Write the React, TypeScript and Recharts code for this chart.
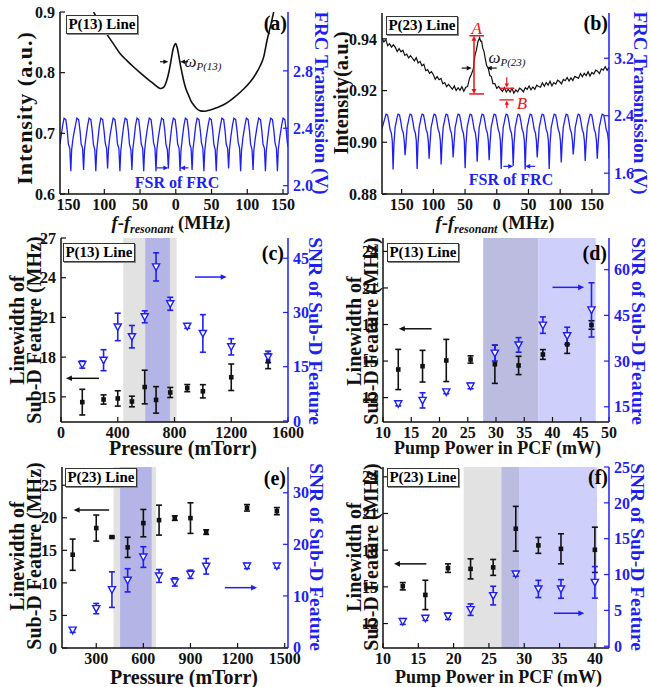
import React from 'react';
import { ComposedChart, Line, Scatter, XAxis, YAxis, ErrorBar, ReferenceArea, ReferenceLine } from 'recharts';

const BLUE = '#1f1ff0';
const BLACK = '#111111';
const RED = '#e8141c';
const GRAY_BAND = '#e2e2e2';
const BLUE_BAND = '#b4b4e6';
const DARK_BAND = '#bcbce0';
const LIGHT_BAND = '#cfcffb';
const FONT = '"Liberation Serif", "Times New Roman", Times, serif';

// ---------- Panel (a) : P(13) line spectrum ----------
const aIntensity: [number, number][] = [
  [-115, 0.9], [-108, 0.8855], [-97, 0.8644], [-87, 0.847], [-78, 0.8316], [-68, 0.8195], [-59.3, 0.8097],
  [-50, 0.8], [-40.6, 0.7905], [-33, 0.7835], [-28.9, 0.7796], [-24.5, 0.7755], [-21.8, 0.774], [-19.5, 0.7745],
  [-17.2, 0.7758], [-14.5, 0.781], [-12.5, 0.788], [-10, 0.799], [-7.8, 0.8124], [-5.5, 0.828], [-4.1, 0.837],
  [-2, 0.845], [0, 0.848], [1.5, 0.843], [2.8, 0.837], [4.5, 0.826], [6.1, 0.815], [8.5, 0.801], [10.8, 0.788],
  [14, 0.774], [17.8, 0.763], [21, 0.754], [24.8, 0.747], [29, 0.741], [34.2, 0.737], [40, 0.7365], [48.2, 0.7386],
  [57, 0.742], [66.9, 0.747], [76, 0.754], [85.6, 0.763], [95, 0.773], [104.3, 0.785], [112, 0.798], [118, 0.811],
  [123, 0.826], [127.7, 0.8535], [133.4, 0.881], [137, 0.9],
];
const aFrc: [number, number][] = [
  [-162, 2.29],
  [-158.3, 2.42], [-156.3, 2.47], [-153.8, 2.46], [-151.8, 2.38], [-150.3, 2.29], [-148.3, 2.26], [-146.9, 2.10], [-145.7, 2.25], [-143.8, 2.33],
  [-140.4, 2.42], [-138.4, 2.47], [-135.9, 2.46], [-133.9, 2.38], [-132.4, 2.29], [-130.4, 2.26], [-129.0, 2.11], [-127.8, 2.25], [-125.9, 2.33],
  [-123.3, 2.42], [-121.3, 2.47], [-118.8, 2.46], [-116.8, 2.38], [-115.3, 2.29], [-113.3, 2.25], [-111.9, 2.10], [-110.7, 2.24], [-108.8, 2.33],
  [-106.8, 2.42], [-104.8, 2.47], [-102.3, 2.46], [-100.3, 2.38], [-98.8, 2.30], [-96.8, 2.26], [-95.4, 2.12], [-94.2, 2.25], [-92.3, 2.34],
  [-89.6, 2.42], [-87.6, 2.47], [-85.1, 2.46], [-83.1, 2.38], [-81.6, 2.29], [-79.6, 2.26], [-78.2, 2.10], [-77.0, 2.24], [-75.1, 2.33],
  [-72.8, 2.42], [-70.8, 2.47], [-68.3, 2.46], [-66.3, 2.38], [-64.8, 2.29], [-62.8, 2.25], [-61.4, 2.11], [-60.2, 2.25], [-58.3, 2.33],
  [-56.3, 2.42], [-54.3, 2.47], [-51.8, 2.46], [-49.8, 2.37], [-48.3, 2.29], [-46.3, 2.26], [-44.9, 2.10], [-43.7, 2.24], [-41.8, 2.33],
  [-39.1, 2.42], [-37.1, 2.47], [-34.6, 2.46], [-32.6, 2.38], [-31.1, 2.30], [-29.1, 2.26], [-27.7, 2.10], [-26.5, 2.25], [-24.6, 2.33],
  [-21.8, 2.42], [-19.8, 2.47], [-17.3, 2.46], [-15.3, 2.38], [-13.8, 2.29], [-11.8, 2.25], [-10.4, 2.12], [-9.2, 2.25], [-7.3, 2.34],
  [-5.4, 2.42], [-3.4, 2.47], [-0.9, 2.46], [1.1, 2.38], [2.6, 2.29], [4.6, 2.26], [6.0, 2.10], [7.2, 2.24], [9.1, 2.33],
  [11.4, 2.42], [13.4, 2.47], [15.9, 2.46], [17.9, 2.38], [19.4, 2.29], [21.4, 2.26], [22.8, 2.11], [24.0, 2.25], [25.9, 2.33],
  [27.9, 2.42], [29.9, 2.47], [32.4, 2.46], [34.4, 2.38], [35.9, 2.30], [37.9, 2.26], [39.3, 2.10], [40.5, 2.24], [42.4, 2.33],
  [45.2, 2.42], [47.2, 2.47], [49.7, 2.46], [51.7, 2.38], [53.2, 2.29], [55.2, 2.25], [56.6, 2.10], [57.8, 2.25], [59.7, 2.33],
  [62.5, 2.42], [64.5, 2.47], [67.0, 2.46], [69.0, 2.38], [70.5, 2.29], [72.5, 2.26], [73.9, 2.12], [75.1, 2.25], [77.0, 2.34],
  [79.3, 2.42], [81.3, 2.47], [83.8, 2.46], [85.8, 2.38], [87.3, 2.30], [89.3, 2.26], [90.7, 2.10], [91.9, 2.24], [93.8, 2.33],
  [96.7, 2.42], [98.7, 2.47], [101.2, 2.46], [103.2, 2.38], [104.7, 2.29], [106.7, 2.25], [108.1, 2.11], [109.3, 2.25], [111.2, 2.33],
  [114.0, 2.42], [116.0, 2.47], [118.5, 2.46], [120.5, 2.38], [122.0, 2.29], [124.0, 2.26], [125.4, 2.10], [126.6, 2.24], [128.5, 2.33],
  [130.8, 2.42], [132.8, 2.47], [135.3, 2.46], [137.3, 2.38], [138.8, 2.30], [140.8, 2.26], [142.2, 2.10], [143.4, 2.25], [145.3, 2.33],
  [148.1, 2.42], [150.1, 2.47], [152.6, 2.46], [154.6, 2.38], [156.1, 2.30], [157, 2.27],
];

// ---------- Panel (b) : P(23) line spectrum ----------
const bIntensity: [number, number][] = [
  [-181, 0.9403], [-178, 0.9388], [-175, 0.9397], [-172, 0.9374], [-169, 0.9381], [-166, 0.9368], [-163, 0.9377],
  [-160, 0.9367], [-157, 0.9351], [-154, 0.9362], [-151, 0.935], [-148, 0.9356], [-145, 0.9336], [-142, 0.9341],
  [-139, 0.9326], [-136, 0.9335], [-133, 0.9325], [-130, 0.9315], [-127, 0.9327], [-124, 0.9307], [-121, 0.9313],
  [-118, 0.9296], [-115, 0.9302], [-112, 0.9277], [-109, 0.9281], [-106, 0.9267], [-103, 0.9273], [-100, 0.9261],
  [-97, 0.9244], [-94, 0.9254], [-91, 0.9242], [-88, 0.9247], [-85, 0.9226], [-82, 0.9231], [-79, 0.9215],
  [-76, 0.9224], [-73, 0.9214], [-70, 0.9205], [-67, 0.9218], [-64, 0.92], [-61, 0.9211], [-58, 0.9201],
  [-55, 0.9215], [-52, 0.9197], [-49, 0.9212], [-46, 0.9216], [-43, 0.9247], [-40, 0.9263], [-37, 0.9284],
  [-34.5, 0.9335], [-32, 0.9358], [-29.5, 0.9391], [-27, 0.9404], [-25.5, 0.9391], [-24, 0.9391], [-22, 0.9364],
  [-20, 0.935], [-18, 0.9322], [-16, 0.9297], [-13.5, 0.9288], [-11, 0.9258], [-8.5, 0.9254], [-6, 0.9227],
  [-3, 0.9227], [0, 0.9208], [3, 0.9216], [6, 0.9206], [9, 0.9197], [12, 0.9211], [15, 0.9194], [18, 0.9205],
  [21, 0.9194], [24, 0.9208], [27, 0.919], [30, 0.9202], [33, 0.9195], [36, 0.9209], [39, 0.9204], [42, 0.9195],
  [45, 0.9211], [48, 0.9205], [51, 0.9218], [54, 0.9203], [57, 0.9214], [60, 0.9205], [63, 0.9221], [66, 0.9216],
  [69, 0.9213], [72, 0.923], [75, 0.9217], [78, 0.9231], [81, 0.9221], [84, 0.9236], [87, 0.9218], [90, 0.9231],
  [93, 0.9225], [96, 0.924], [99, 0.9235], [102, 0.9226], [105, 0.9243], [108, 0.9238], [111, 0.9251],
  [114, 0.9237], [117, 0.9249], [120, 0.9239], [123, 0.9255], [126, 0.9251], [129, 0.9248], [132, 0.9266],
  [135, 0.9253], [138, 0.9267], [141, 0.9258], [144, 0.9273], [147, 0.9256], [150, 0.927], [153, 0.9264],
  [156, 0.9279], [159, 0.9275], [162, 0.9266], [165, 0.9284], [168, 0.9279], [171, 0.9292], [174, 0.9278], [177, 0.929],
];
const bFrc: [number, number][] = [
  [-181, 2.22],
  [-176.3, 2.37], [-174.6, 2.42], [-172.3, 2.41], [-170.3, 2.32], [-168.3, 2.21], [-166.3, 2.16], [-164.8, 2.05], [-163.5, 1.65], [-162.2, 2.0], [-160.3, 2.24], [-158.3, 2.32],
  [-157.4, 2.37], [-155.7, 2.42], [-153.4, 2.41], [-151.4, 2.32], [-149.4, 2.21], [-147.4, 2.16], [-145.9, 2.05], [-144.6, 1.85], [-143.3, 2.0], [-141.4, 2.24], [-139.4, 2.32],
  [-138.4, 2.37], [-136.7, 2.42], [-134.4, 2.41], [-132.4, 2.32], [-130.4, 2.21], [-128.4, 2.16], [-126.9, 2.05], [-125.6, 1.66], [-124.3, 2.0], [-122.4, 2.24], [-120.4, 2.32],
  [-119.5, 2.37], [-117.8, 2.42], [-115.5, 2.41], [-113.5, 2.32], [-111.5, 2.21], [-109.5, 2.16], [-108.0, 2.05], [-106.7, 1.8], [-105.4, 2.0], [-103.5, 2.24], [-101.5, 2.32],
  [-100.5, 2.37], [-98.8, 2.42], [-96.5, 2.41], [-94.5, 2.32], [-92.5, 2.21], [-90.5, 2.16], [-89.0, 2.05], [-87.7, 1.72], [-86.4, 2.0], [-84.5, 2.24], [-82.5, 2.32],
  [-81.6, 2.37], [-79.9, 2.42], [-77.6, 2.41], [-75.6, 2.32], [-73.6, 2.21], [-71.6, 2.16], [-70.1, 2.05], [-68.8, 1.82], [-67.5, 2.0], [-65.6, 2.24], [-63.6, 2.32],
  [-62.7, 2.37], [-61.0, 2.42], [-58.7, 2.41], [-56.7, 2.32], [-54.7, 2.21], [-52.7, 2.16], [-51.2, 2.05], [-49.9, 1.67], [-48.6, 2.0], [-46.7, 2.24], [-44.7, 2.32],
  [-43.7, 2.37], [-42.0, 2.42], [-39.7, 2.41], [-37.7, 2.32], [-35.7, 2.21], [-33.7, 2.16], [-32.2, 2.05], [-30.9, 1.76], [-29.6, 2.0], [-27.7, 2.24], [-25.7, 2.32],
  [-24.8, 2.37], [-23.1, 2.42], [-20.8, 2.41], [-18.8, 2.32], [-16.8, 2.21], [-14.8, 2.16], [-13.3, 2.05], [-12.0, 1.78], [-10.7, 2.0], [-8.8, 2.24], [-6.8, 2.32],
  [-5.8, 2.37], [-4.1, 2.42], [-1.8, 2.41], [0.2, 2.32], [2.2, 2.21], [4.2, 2.16], [5.7, 2.05], [7.0, 1.66], [8.3, 2.0], [10.2, 2.24], [12.2, 2.32],
  [13.1, 2.37], [14.8, 2.42], [17.1, 2.41], [19.1, 2.32], [21.1, 2.21], [23.1, 2.16], [24.6, 2.05], [25.9, 1.7], [27.2, 2.0], [29.1, 2.24], [31.1, 2.32],
  [32.0, 2.37], [33.7, 2.42], [36.0, 2.41], [38.0, 2.32], [40.0, 2.21], [42.0, 2.16], [43.5, 2.05], [44.8, 1.65], [46.1, 2.0], [48.0, 2.24], [50.0, 2.32],
  [51.0, 2.37], [52.7, 2.42], [55.0, 2.41], [57.0, 2.32], [59.0, 2.21], [61.0, 2.16], [62.5, 2.05], [63.8, 1.82], [65.1, 2.0], [67.0, 2.24], [69.0, 2.32],
  [69.9, 2.37], [71.6, 2.42], [73.9, 2.41], [75.9, 2.32], [77.9, 2.21], [79.9, 2.16], [81.4, 2.05], [82.7, 1.66], [84.0, 2.0], [85.9, 2.24], [87.9, 2.32],
  [88.9, 2.37], [90.6, 2.42], [92.9, 2.41], [94.9, 2.32], [96.9, 2.21], [98.9, 2.16], [100.4, 2.05], [101.7, 1.75], [103.0, 2.0], [104.9, 2.24], [106.9, 2.32],
  [107.8, 2.37], [109.5, 2.42], [111.8, 2.41], [113.8, 2.32], [115.8, 2.21], [117.8, 2.16], [119.3, 2.05], [120.6, 1.86], [121.9, 2.0], [123.8, 2.24], [125.8, 2.32],
  [126.7, 2.37], [128.4, 2.42], [130.7, 2.41], [132.7, 2.32], [134.7, 2.21], [136.7, 2.16], [138.2, 2.05], [139.5, 1.77], [140.8, 2.0], [142.7, 2.24], [144.7, 2.32],
  [145.7, 2.37], [147.4, 2.42], [149.7, 2.41], [151.7, 2.32], [153.7, 2.21], [155.7, 2.16], [157.2, 2.05], [158.5, 1.8], [159.8, 2.0], [161.7, 2.24], [163.7, 2.32],
  [164.6, 2.37], [166.3, 2.42], [168.6, 2.41], [170.6, 2.32], [172.6, 2.21], [174.6, 2.16], [176.1, 2.05], [177, 1.8],
];

// ---------- Panel (c) : P(13) vs pressure ----------
const cPressure = [150, 300, 400, 500, 590, 670, 770, 890, 1000, 1200, 1460];
const cWidth = [14.6, 14.8, 14.88, 14.65, 15.74, 14.77, 15.33, 15.66, 15.42, 16.48, 17.7];
const cWidthErr = [0.97, 0.35, 0.58, 0.4, 1.27, 1.0, 0.38, 0.27, 0.5, 1.0, 0.57];
const cSnr = [15.6, 16.8, 26.0, 23.3, 28.8, 42.6, 32.4, 26.2, 24.2, 20.5, 17.7];
const cSnrErr = [1.0, 2.9, 3.8, 3.1, 1.65, 3.9, 1.8, 0.6, 5.2, 2.25, 1.6];

// ---------- Panel (d) : P(13) vs pump power ----------
const dPower = [12.7, 17.0, 21.2, 25.5, 29.8, 34.0, 38.3, 42.6, 46.9];
const dWidth = [14.31, 14.58, 15.05, 15.13, 14.74, 14.64, 15.54, 16.37, 17.96];
const dWidthErr = [1.65, 1.3, 1.73, 0.3, 1.57, 0.75, 0.4, 0.74, 0.35];
const dSnr = [16.0, 17.1, 19.9, 21.8, 32.6, 35.3, 41.8, 38.3, 46.8];
const dSnrErr = [0.7, 2.5, 0.6, 0.9, 2.6, 2.4, 2.7, 2.8, 8.9];

// ---------- Panel (e) : P(23) vs pressure ----------
const ePressure = [150, 300, 400, 500, 600, 700, 800, 900, 1000, 1260, 1450];
const eWidth = [14.33, 18.42, 17.04, 15.46, 19.18, 19.64, 19.95, 19.95, 17.8, 21.53, 21.02];
const eWidthErr = [2.4, 2.0, 0.15, 1.55, 2.1, 2.3, 0.35, 2.35, 0.35, 0.5, 0.55];
const eSnr = [3.37, 7.54, 11.22, 13.03, 17.54, 13.87, 12.71, 14.2, 15.74, 15.8, 15.8];
const eSnrErr = [0.45, 1.0, 3.45, 2.25, 2.0, 1.25, 0.8, 0.8, 1.5, 0.5, 0.4];

// ---------- Panel (f) : P(23) vs pump power ----------
const fPower = [12.8, 16, 19.2, 22.4, 25.6, 28.8, 32, 35.2, 40];
const fWidth = [15.05, 14.34, 16.53, 16.47, 16.59, 19.75, 18.39, 18.11, 18.03];
const fWidthErr = [0.3, 1.2, 0.35, 0.82, 0.65, 1.83, 0.65, 1.23, 1.85];
const fSnr = [3.44, 3.9, 4.18, 5.1, 7.06, 10.07, 7.99, 7.99, 8.91];
const fSnrErr = [0.4, 0.3, 0.45, 0.8, 1.3, 0.3, 1.2, 1.3, 2.2];

const freqTicks = [-150, -100, -50, 0, 50, 100, 150];

const toLine = (arr: [number, number][]) => arr.map(([x, y]) => ({ x, y }));
const toPts = (xs: number[], ys: number[], es: number[]) => xs.map((x, i) => ({ x, y: ys[i], e: es[i] }));

const Square = (p: any) => <rect x={p.cx - 2.3} y={p.cy - 2.3} width={4.6} height={4.6} fill={BLACK} />;
const Tri = (p: any) => (
  <polygon
    points={`${p.cx - 3.6},${p.cy - 3} ${p.cx + 3.6},${p.cy - 3} ${p.cx},${p.cy + 3.6}`}
    fill="white"
    stroke={BLUE}
    strokeWidth={1.4}
  />
);

const arrowShape = (color: string, startHead: boolean, endHead: boolean, sw = 1.5, hl = 6, hw = 2.8) => (p: any) => {
  const x1 = Number(p.x1), y1 = Number(p.y1), x2 = Number(p.x2), y2 = Number(p.y2);
  const dx = x2 - x1, dy = y2 - y1;
  const len = Math.hypot(dx, dy) || 1;
  const ux = dx / len, uy = dy / len;
  const head = (tx: number, ty: number, vx: number, vy: number) => {
    const bx = tx - vx * hl, by = ty - vy * hl;
    return `${tx},${ty} ${bx - vy * hw},${by + vx * hw} ${bx + vy * hw},${by - vx * hw}`;
  };
  const lx1 = startHead ? x1 + ux * hl * 0.7 : x1;
  const ly1 = startHead ? y1 + uy * hl * 0.7 : y1;
  const lx2 = endHead ? x2 - ux * hl * 0.7 : x2;
  const ly2 = endHead ? y2 - uy * hl * 0.7 : y2;
  return (
    <g>
      <line x1={lx1} y1={ly1} x2={lx2} y2={ly2} stroke={color} strokeWidth={sw} />
      {endHead && <polygon points={head(x2, y2, ux, uy)} fill={color} />}
      {startHead && <polygon points={head(x1, y1, -ux, -uy)} fill={color} />}
    </g>
  );
};

const tickStyle = (fill: string) => ({ fill, fontSize: 16, fontWeight: 700, fontFamily: FONT });

type Box = { L: number; R: number; T: number; B: number };

function Panel(props: {
  box: Box;
  xDomain: [number, number];
  xTicks: number[];
  xFmt?: (v: number) => string;
  lDomain: [number, number];
  lTicks: number[];
  lFmt?: (v: number) => string;
  rDomain: [number, number];
  rTicks: number[];
  rFmt?: (v: number) => string;
  children?: React.ReactNode;
}) {
  const { L, R, T, B } = props.box;
  const w = R - L + 100;
  const h = B - T + 50;
  return (
    <div style={{ position: 'absolute', left: L - 50, top: T - 10 }}>
      <ComposedChart width={w} height={h} margin={{ top: 10, right: 0, bottom: 10, left: 0 }}>
        <XAxis
          dataKey="x"
          type="number"
          domain={props.xDomain}
          ticks={props.xTicks}
          interval={0}
          allowDataOverflow
          tickFormatter={props.xFmt}
          height={30}
          tickSize={-5}
          tickMargin={10}
          axisLine={{ stroke: BLACK, strokeWidth: 1.5 }}
          tickLine={{ stroke: BLACK, strokeWidth: 1.2 }}
          tick={tickStyle(BLACK)}
        />
        <XAxis
          xAxisId="top"
          orientation="top"
          type="number"
          domain={props.xDomain}
          allowDataOverflow
          height={0}
          tick={false}
          tickLine={false}
          axisLine={{ stroke: BLACK, strokeWidth: 1.5 }}
        />
        <YAxis
          yAxisId="left"
          dataKey="y"
          type="number"
          domain={props.lDomain}
          ticks={props.lTicks}
          interval={0}
          allowDataOverflow
          tickFormatter={props.lFmt}
          width={50}
          tickSize={-5}
          tickMargin={10}
          axisLine={{ stroke: BLACK, strokeWidth: 1.5 }}
          tickLine={{ stroke: BLACK, strokeWidth: 1.2 }}
          tick={tickStyle(BLACK)}
        />
        <YAxis
          yAxisId="right"
          orientation="right"
          dataKey="y"
          type="number"
          domain={props.rDomain}
          ticks={props.rTicks}
          interval={0}
          allowDataOverflow
          tickFormatter={props.rFmt}
          width={50}
          tickSize={-5}
          tickMargin={10}
          axisLine={{ stroke: BLUE, strokeWidth: 1.5 }}
          tickLine={{ stroke: BLUE, strokeWidth: 1.2 }}
          tick={tickStyle(BLUE)}
        />
        {props.children}
      </ComposedChart>
    </div>
  );
}

const seg = (axis: string, x1: number, y1: number, x2: number, y2: number, shape: any, key: string) => (
  <ReferenceLine
    key={key}
    yAxisId={axis}
    segment={[{ x: x1, y: y1 }, { x: x2, y: y2 }]}
    shape={shape}
    ifOverflow="visible"
  />
);

const dataSeries = (
  w: { x: number; y: number; e: number }[],
  s: { x: number; y: number; e: number }[]
) => [
  <Scatter key="w" yAxisId="left" data={w} dataKey="y" shape={Square} isAnimationActive={false}>
    <ErrorBar dataKey="e" direction="y" width={3} stroke={BLACK} strokeWidth={1.6} />
  </Scatter>,
  <Scatter key="s" yAxisId="right" data={s} dataKey="y" shape={Tri} isAnimationActive={false}>
    <ErrorBar dataKey="e" direction="y" width={3} stroke={BLUE} strokeWidth={1.6} />
  </Scatter>,
];

const txt = (
  x: number,
  y: number,
  content: React.ReactNode,
  opts: { size?: number; color?: string; rot?: number; lh?: number; ls?: number; italic?: boolean; bold?: boolean } = {}
) => (
  <div
    style={{
      position: 'absolute',
      left: x,
      top: y,
      transform: `translate(-50%, -50%) rotate(${opts.rot ?? 0}deg)`,
      whiteSpace: 'nowrap',
      fontWeight: opts.bold === false ? 400 : 700,
      fontStyle: opts.italic ? 'italic' : 'normal',
      fontSize: opts.size ?? 20,
      color: opts.color ?? BLACK,
      lineHeight: `${opts.lh ?? Math.round((opts.size ?? 20) * 1.1)}px`,
      letterSpacing: opts.ls ? `${opts.ls}px` : undefined,
      textAlign: 'center',
      fontFamily: FONT,
    }}
  >
    {content}
  </div>
);

const legendBox = (left: number, top: number, label: string) => (
  <div
    style={{
      position: 'absolute',
      left,
      top,
      width: 70,
      height: 17,
      border: '1.5px solid #333',
      boxShadow: '1px 1px 0 #888',
      background: 'white',
      fontFamily: FONT,
      fontWeight: 700,
      fontSize: 15,
      lineHeight: '17px',
      textAlign: 'center',
      whiteSpace: 'nowrap',
    }}
  >
    {label}
  </div>
);

const panelLetter = (right: number, cy: number, label: string) => (
  <div
    style={{
      position: 'absolute',
      left: right - 40,
      top: cy - 11,
      width: 40,
      textAlign: 'right',
      fontFamily: FONT,
      fontWeight: 700,
      fontSize: 20,
      lineHeight: '22px',
    }}
  >
    {label}
  </div>
);

const freqTitle = (
  <span>
    <i>f</i>-<i>f</i>
    <i style={{ fontSize: 12, position: 'relative', top: 4 }}>resonant</i> (MHz)
  </span>
);

const absFmt = (v: number) => String(Math.abs(v));

export default function App() {
  const aInt = toLine(aIntensity);
  const aF = toLine(aFrc);
  const bInt = toLine(bIntensity);
  const bF = toLine(bFrc);
  return (
    <div style={{ position: 'absolute', left: 0, top: 0, width: 650, height: 687, background: 'white', fontFamily: FONT, overflow: 'hidden' }}>
      {/* (a) */}
      <Panel
        box={{ L: 60, R: 288, T: 12, B: 194 }}
        xDomain={[-162, 157]}
        xTicks={freqTicks}
        xFmt={absFmt}
        lDomain={[0.6, 0.9]}
        lTicks={[0.6, 0.7, 0.8, 0.9]}
        lFmt={(v) => v.toFixed(1)}
        rDomain={[1.942, 3.21]}
        rTicks={[2.0, 2.4, 2.8]}
        rFmt={(v) => v.toFixed(1)}
      >
        <Line yAxisId="right" data={aF} dataKey="y" type="linear" stroke={BLUE} strokeWidth={1.3} dot={false} isAnimationActive={false} />
        <Line yAxisId="left" data={aInt} dataKey="y" type="monotone" stroke={BLACK} strokeWidth={1.6} dot={false} isAnimationActive={false} />
        {seg('left', -22, 0.818, -10.4, 0.818, arrowShape(BLACK, false, true, 1.2, 5, 2.3), 'a1')}
        {seg('left', 17.3, 0.818, 6.0, 0.818, arrowShape(BLACK, false, true, 1.2, 5, 2.3), 'a2')}
        {seg('right', -26.6, 2.124, -10.4, 2.124, arrowShape(BLUE, false, true, 1.2, 5, 2.3), 'a3')}
        {seg('right', 17.7, 2.124, 6.0, 2.124, arrowShape(BLUE, false, true, 1.2, 5, 2.3), 'a4')}
      </Panel>

      {/* (b) */}
      <Panel
        box={{ L: 382, R: 609, T: 13, B: 194 }}
        xDomain={[-181, 177]}
        xTicks={freqTicks}
        xFmt={absFmt}
        lDomain={[0.88, 0.95]}
        lTicks={[0.88, 0.9, 0.92, 0.94]}
        lFmt={(v) => v.toFixed(2)}
        rDomain={[1.31, 3.83]}
        rTicks={[1.6, 2.4, 3.2]}
        rFmt={(v) => v.toFixed(1)}
      >
        <Line yAxisId="right" data={bF} dataKey="y" type="linear" stroke={BLUE} strokeWidth={1.3} dot={false} isAnimationActive={false} />
        <Line yAxisId="left" data={bInt} dataKey="y" type="linear" stroke={BLACK} strokeWidth={1.2} dot={false} isAnimationActive={false} />
        {seg('left', -55.3, 0.9287, -39.5, 0.9287, arrowShape(BLACK, false, true, 1.2, 5, 2.3), 'b1')}
        {seg('left', 0, 0.9287, -15.8, 0.9287, arrowShape(BLACK, false, true, 1.2, 5, 2.3), 'b2')}
        {seg('left', -35.9, 0.9187, -35.9, 0.9412, arrowShape(RED, true, true, 1.5, 5, 2.5), 'b3')}
        {seg('left', -43.3, 0.9412, -20.1, 0.9412, arrowShape(RED, false, false, 1.5), 'b4')}
        {seg('left', -43.3, 0.9187, -20.1, 0.9187, arrowShape(RED, false, false, 1.5), 'b5')}
        {seg('left', 15.8, 0.9252, 15.8, 0.9212, arrowShape(RED, false, true, 1.2, 4, 2.2), 'b6')}
        {seg('left', 4.1, 0.9209, 27.8, 0.9209, arrowShape(RED, false, false, 1.3), 'b7')}
        {seg('left', 4.1, 0.9164, 26.6, 0.9164, arrowShape(RED, false, false, 1.3), 'b8')}
        {seg('left', 15.8, 0.9132, 15.8, 0.9161, arrowShape(RED, false, true, 1.2, 4, 2.2), 'b9')}
        {seg('right', 10.4, 1.695, 25.9, 1.695, arrowShape(BLUE, false, true, 1.2, 5, 2.3), 'b10')}
        {seg('right', 60.5, 1.695, 44.8, 1.695, arrowShape(BLUE, false, true, 1.2, 5, 2.3), 'b11')}
      </Panel>

      {/* (c) */}
      <Panel
        box={{ L: 61, R: 288, T: 238, B: 422 }}
        xDomain={[0, 1600]}
        xTicks={[0, 400, 800, 1200, 1600]}
        lDomain={[13.1, 27]}
        lTicks={[15, 18, 21, 24, 27]}
        rDomain={[-0.3, 50.6]}
        rTicks={[0, 15, 30, 45]}
      >
        <ReferenceArea yAxisId="left" x1={439} x2={815} fill={GRAY_BAND} fillOpacity={1} stroke="none" ifOverflow="hidden" />
        <ReferenceArea yAxisId="left" x1={594} x2={768} fill={BLUE_BAND} fillOpacity={1} stroke="none" ifOverflow="hidden" />
        {dataSeries(toPts(cPressure, cWidth, cWidthErr), toPts(cPressure, cSnr, cSnrErr))}
        {seg('left', 268, 16.4, 35, 16.4, arrowShape(BLACK, false, true), 'c1')}
        {seg('right', 944, 39.8, 1168, 39.8, arrowShape(BLUE, false, true), 'c2')}
      </Panel>

      {/* (d) */}
      <Panel
        box={{ L: 383, R: 609, T: 238, B: 422 }}
        xDomain={[10, 50]}
        xTicks={[10, 15, 20, 25, 30, 35, 40, 45, 50]}
        lDomain={[10, 25.1]}
        lTicks={[12, 15, 18, 21, 24]}
        rDomain={[10, 70.4]}
        rTicks={[15, 30, 45, 60]}
      >
        <ReferenceArea yAxisId="left" x1={27.73} x2={37.48} fill={DARK_BAND} fillOpacity={1} stroke="none" ifOverflow="hidden" />
        <ReferenceArea yAxisId="left" x1={37.48} x2={47.66} fill={LIGHT_BAND} fillOpacity={1} stroke="none" ifOverflow="hidden" />
        {dataSeries(toPts(dPower, dWidth, dWidthErr), toPts(dPower, dSnr, dSnrErr))}
        {seg('left', 18.6, 17.65, 12.8, 17.65, arrowShape(BLACK, false, true), 'd1')}
        {seg('right', 40.0, 54.2, 45.6, 54.2, arrowShape(BLUE, false, true), 'd2')}
      </Panel>

      {/* (e) */}
      <Panel
        box={{ L: 62, R: 288, T: 467, B: 648 }}
        xDomain={[82, 1521]}
        xTicks={[300, 600, 900, 1200, 1500]}
        lDomain={[0, 27.8]}
        lTicks={[0, 5, 10, 15, 20, 25]}
        rDomain={[-0.1, 35]}
        rTicks={[0, 10, 20, 30]}
      >
        <ReferenceArea yAxisId="left" x1={410} x2={681} fill={GRAY_BAND} fillOpacity={1} stroke="none" ifOverflow="hidden" />
        <ReferenceArea yAxisId="left" x1={452} x2={653} fill={BLUE_BAND} fillOpacity={1} stroke="none" ifOverflow="hidden" />
        {dataSeries(toPts(ePressure, eWidth, eWidthErr), toPts(ePressure, eSnr, eSnrErr))}
        {seg('left', 382, 21.2, 156, 21.2, arrowShape(BLACK, false, true), 'e1')}
        {seg('right', 1119, 11.6, 1324, 11.6, arrowShape(BLUE, false, true), 'e2')}
      </Panel>

      {/* (f) */}
      <Panel
        box={{ L: 383, R: 609, T: 467, B: 648 }}
        xDomain={[10, 42]}
        xTicks={[10, 15, 20, 25, 30, 35, 40]}
        lDomain={[10, 24.8]}
        lTicks={[12, 15, 18, 21, 24]}
        rDomain={[-0.25, 25]}
        rTicks={[0, 5, 10, 15, 20, 25]}
      >
        <ReferenceArea yAxisId="left" x1={21.43} x2={26.76} fill={GRAY_BAND} fillOpacity={1} stroke="none" ifOverflow="hidden" />
        <ReferenceArea yAxisId="left" x1={26.76} x2={29.26} fill={DARK_BAND} fillOpacity={1} stroke="none" ifOverflow="hidden" />
        <ReferenceArea yAxisId="left" x1={29.26} x2={40.3} fill={LIGHT_BAND} fillOpacity={1} stroke="none" ifOverflow="hidden" />
        {dataSeries(toPts(fPower, fWidth, fWidthErr), toPts(fPower, fSnr, fSnrErr))}
        {seg('left', 16.14, 16.88, 11.56, 16.88, arrowShape(BLACK, false, true), 'f1')}
        {seg('right', 34.2, 4.6, 38.5, 4.6, arrowShape(BLUE, false, true), 'f2')}
      </Panel>

      {/* legend boxes & panel letters */}
      {legendBox(66, 15, 'P(13) Line')}
      {legendBox(386, 16, 'P(23) Line')}
      {legendBox(63, 243, 'P(13) Line')}
      {legendBox(387, 243, 'P(13) Line')}
      {legendBox(65, 468, 'P(23) Line')}
      {legendBox(387, 468, 'P(23) Line')}
      {panelLetter(287, 23, '(a)')}
      {panelLetter(608, 23, '(b)')}
      {panelLetter(284, 253, '(c)')}
      {panelLetter(607, 253, '(d)')}
      {panelLetter(286, 478, '(e)')}
      {panelLetter(608, 477, '(f)')}

      {/* annotations (a) (b) */}
      {txt(177, 183, 'FSR of FRC', { size: 16, color: BLUE })}
      {txt(511, 180, 'FSR of FRC', { size: 16, color: BLUE })}
      {txt(203, 62, <span>ω<span style={{ fontSize: 11, position: 'relative', top: 3 }}>P(13)</span></span>, { size: 17, italic: true, bold: false })}
      {txt(507, 58, <span>ω<span style={{ fontSize: 11, position: 'relative', top: 3 }}>P(23)</span></span>, { size: 17, italic: true, bold: false })}
      {txt(476.7, 28, 'A', { size: 17, italic: true, bold: false, color: RED })}
      {txt(522, 103, 'B', { size: 17, italic: true, bold: false, color: RED })}

      {/* axis titles */}
      {txt(25, 108, 'Intensity (a.u.)', { size: 22, rot: -90, ls: 1 })}
      {txt(321, 103, 'FRC Transmission (V)', { size: 19, rot: 90, color: BLUE })}
      {txt(171, 224, freqTitle, { size: 18.5, lh: 18 })}
      {txt(341, 93, 'Intensity(a.u.)', { size: 20.5, rot: -90 })}
      {txt(640, 103, 'FRC Transmission (V)', { size: 19, rot: 90, color: BLUE })}
      {txt(495, 224, freqTitle, { size: 18.5, lh: 18 })}

      {txt(26, 330, <span>Linewidth of<br />Sub-D Feature (MHz)</span>, { size: 20, rot: -90, lh: 17 })}
      {txt(315, 331, 'SNR of Sub-D Feature', { size: 19.5, rot: 90, color: BLUE })}
      {txt(183, 448, 'Pressure (mTorr)', { size: 20 })}

      {txt(363, 331, <span>Linewidth of<br />Sub-D Feature (MHz)</span>, { size: 20, rot: -90, lh: 17 })}
      {txt(637.5, 331, 'SNR of Sub-D Feature', { size: 19.5, rot: 90, color: BLUE })}
      {txt(497.5, 448, 'Pump Power in PCF (mW)', { size: 18 })}

      {txt(26, 556, <span>Linewidth of<br />Sub-D Feature (MHz)</span>, { size: 20, rot: -90, lh: 17 })}
      {txt(316, 557, 'SNR of Sub-D Feature', { size: 19.5, rot: 90, color: BLUE })}
      {txt(184, 677, 'Pressure (mTorr)', { size: 20 })}

      {txt(363, 557, <span>Linewidth of<br />Sub-D Feature (MHz)</span>, { size: 20, rot: -90, lh: 17 })}
      {txt(637, 557, 'SNR of Sub-D Feature', { size: 19.5, rot: 90, color: BLUE })}
      {txt(498.5, 677, 'Pump Power in PCF (mW)', { size: 18 })}
    </div>
  );
}
